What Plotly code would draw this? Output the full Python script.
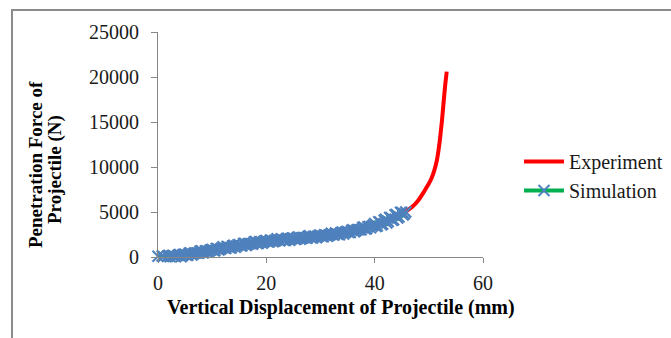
import plotly.graph_objects as go

# Experiment curve (displacement mm, force N)
exp_x = [0, 1, 2, 3, 4, 5, 6, 7, 8, 9, 10, 11, 12, 13, 14, 15, 16, 17, 18, 19, 20,
         21, 22, 23, 24, 25, 26, 27, 28, 29, 30, 31, 32, 33, 34, 35, 36, 37, 38, 39, 40,
         41, 42, 43, 44, 45, 46, 47, 48, 49, 49.5, 50, 50.5, 51, 51.5, 52, 52.4, 52.7, 53.0, 53.3]
exp_y = [0, 10, 40, 90, 160, 240, 330, 430, 540, 650, 760, 870, 980, 1090, 1190, 1290, 1390,
         1480, 1570, 1660, 1740, 1810, 1870, 1930, 1990, 2040, 2090, 2140, 2200, 2260, 2330,
         2400, 2480, 2570, 2660, 2770, 2890, 3020, 3170, 3340, 3530, 3740, 3970, 4220, 4490,
         4780, 5150, 5600, 6250, 7150, 7650, 8150, 8750, 9600, 10800, 12800, 15000, 17000,
         19000, 20600]

# Simulation points
sim_x = [-0.4, 0.0, 0.25, 0.5, 0.75, 1.0, 1.25, 1.5, 1.75, 2.0, 2.25, 2.5, 2.75, 3.0, 3.25,
         3.5, 3.75, 4.0, 4.25, 4.5, 4.75, 5.0, 5.25, 5.5, 5.75, 6.0, 6.25, 6.5, 6.75, 7.0,
         7.25, 7.5, 7.75, 8.0, 8.25, 8.5, 8.75, 9.0, 9.25, 9.5, 9.75, 10.0, 10.25, 10.5, 10.75,
         11.0, 11.25, 11.5, 11.75, 12.0, 12.25, 12.5, 12.75, 13.0, 13.25, 13.5, 13.75, 14.0,
         14.25, 14.5, 14.75, 15.0, 15.25, 15.5, 15.75, 16.0, 16.25, 16.5, 16.75, 17.0, 17.25,
         17.5, 17.75, 18.0, 18.25, 18.5, 18.75, 19.0, 19.25, 19.5, 19.75, 20.0, 20.25, 20.5,
         20.75, 21.0, 21.25, 21.5, 21.75, 22.0, 22.25, 22.5, 22.75, 23.0, 23.25, 23.5, 23.75,
         24.0, 24.25, 24.5, 24.75, 25.0, 25.25, 25.5, 25.75, 26.0, 26.25, 26.5, 26.75, 27.0,
         27.25, 27.5, 27.75, 28.0, 28.25, 28.5, 28.75, 29.0, 29.25, 29.5, 29.75, 30.0, 30.25,
         30.5, 30.75, 31.0, 31.25, 31.5, 31.75, 32.0, 32.25, 32.5, 32.75, 33.0, 33.25, 33.5,
         33.75, 34.0, 34.25, 34.5, 34.75, 35.0, 35.25, 35.5, 35.75, 36.0, 36.25, 36.5, 36.75,
         37.0, 37.25, 37.5, 37.75, 38.0, 38.25, 38.5, 38.75, 39.0, 39.25, 39.5, 39.75, 40.0,
         40.25, 40.5, 40.75, 41.0, 41.25, 41.5, 41.75, 42.0, 42.25, 42.5, 42.75, 43.0, 43.25,
         43.5, 43.75, 44.0, 44.25, 44.5, 44.75, 45.0, 45.25, 45.5, 45.75]
sim_y = [20, 80, -70, -115, 110, 50, -110, -35, 70, 190, 30, -25, 200, 110, 20,
         -15, 200, 270, 30, 170, 300, 310, 190, 185, 410, 460, 225, 330, 445, 440,
         440, 405, 630, 700, 480, 485, 680, 700, 530, 685, 810, 840, 720, 695, 940,
         910, 770, 865, 990, 1130, 990, 945, 1180, 1110, 1025, 1000, 1225, 1300,
         1065, 1210, 1345, 1360, 1245, 1240, 1465, 1520, 1280, 1385, 1500, 1490, 1480,
         1445, 1670, 1730, 1500, 1505, 1700, 1710, 1530, 1680, 1800, 1820, 1690, 1655,
         1890, 1850, 1695, 1780, 1895, 2020, 1865, 1810, 2035, 1950, 1855, 1820, 2035,
         2100, 1850, 1985, 2110, 2110, 1980, 1965, 2180, 2220, 1970, 2065, 2170, 2150,
         2135, 2090, 2305, 2360, 2125, 2120, 2305, 2310, 2130, 2275, 2390, 2410, 2280,
         2245, 2480, 2440, 2290, 2380, 2500, 2630, 2480, 2435, 2670, 2590, 2500, 2475,
         2700, 2770, 2540, 2685, 2820, 2840, 2730, 2730, 2960, 3020, 2790, 2905, 3030,
         3030, 3040, 3015, 3250, 3330, 3120, 3145, 3360, 3390, 3240, 3415, 3560, 3730,
         3380, 3455, 3910, 3860, 3570, 3655, 4090, 4190, 3780, 3945, 4390, 4400, 4090,
         4135, 4680, 4740, 4330, 4455, 4960, 4980, 4665, 4800, 5000]

x_ticks = [0, 20, 40, 60]
y_ticks = [0, 5000, 10000, 15000, 20000, 25000]
y_tick_text = ["0", "5000", "10000", "15000", "20000", "25000"]

W, H = 671, 338
L, R, T, B = 158, 483, 32, 257
pw, ph = R - L, B - T


def px(x):
    return (x - L) / pw


def py(y):
    return (B - y) / ph


serif = "Liberation Serif, Times New Roman, serif"
axis_col = "#868686"
txt = "#1a1a1a"

fig = go.Figure()
fig.add_trace(go.Scatter(
    x=exp_x, y=exp_y, mode="lines", name="Experiment",
    line=dict(color="#FF0000", width=4, shape="spline", smoothing=0.4), legendgroup="a"))
fig.add_trace(go.Scatter(
    x=sim_x, y=sim_y, mode="lines+markers", name="Simulation",
    line=dict(color="#00B050", width=4), legendgroup="b",
    marker=dict(symbol="x-thin", size=11, color="#4F81BD",
                line=dict(color="#4F81BD", width=2)),
    cliponaxis=False))

fig.update_layout(
    width=W, height=H,
    margin=dict(l=L, r=W - R, t=T, b=H - B, autoexpand=False),
    paper_bgcolor="white", plot_bgcolor="white",
    font=dict(family=serif, size=20, color=txt),
    showlegend=True,
    legend=dict(xref="container", yref="container", x=668 / W, y=1 - 142 / H,
                xanchor="right", yanchor="top",
                font=dict(family=serif, size=20, color=txt),
                tracegroupgap=0, bgcolor="rgba(0,0,0,0)", itemwidth=40),
    xaxis=dict(range=[0, 60], tickvals=x_ticks, showline=True, linecolor=axis_col,
               linewidth=1, ticks="outside", ticklen=5, tickcolor=axis_col,
               showgrid=False, zeroline=False, ticklabelstandoff=3,
               tickfont=dict(family=serif, size=20, color=txt)),
    yaxis=dict(range=[0, 25000], tickvals=y_ticks, ticktext=y_tick_text, showline=True,
               linecolor=axis_col, linewidth=1, ticks="outside", ticklen=6,
               tickcolor=axis_col, showgrid=False, zeroline=False, ticklabelstandoff=8,
               tickfont=dict(family=serif, size=20, color=txt)),
    shapes=[dict(type="rect", xref="paper", yref="paper",
                 x0=px(12), x1=px(700), y0=py(360), y1=py(10),
                 line=dict(color="#8c8c8c", width=2), fillcolor="rgba(0,0,0,0)",
                 layer="below")],
    annotations=[
        dict(text="<b>Penetration Force of</b>", x=px(35), y=py(165), xref="paper", yref="paper",
             textangle=-90, showarrow=False, xanchor="center", yanchor="middle",
             font=dict(family=serif, size=19, color="#000000")),
        dict(text="<b>Projectile (N)</b>", x=px(55), y=py(170), xref="paper", yref="paper",
             textangle=-90, showarrow=False, xanchor="center", yanchor="middle",
             font=dict(family=serif, size=19, color="#000000")),
        dict(text="<b>Vertical Displacement of Projectile (mm)</b>", x=px(341), y=py(307),
             xref="paper", yref="paper", showarrow=False, xanchor="center", yanchor="middle",
             font=dict(family=serif, size=20, color="#000000")),
    ],
)

fig.write_html("out.html")
